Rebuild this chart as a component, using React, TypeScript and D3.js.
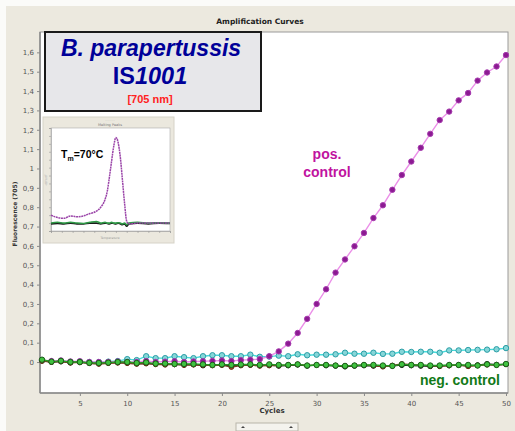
import React, { useRef, useEffect } from "react";
import * as d3 from "d3";

// main amplification data (cycles 1..50)
const cycles = [1, 2, 3, 4, 5, 6, 7, 8, 9, 10, 11, 12, 13, 14, 15, 16, 17, 18, 19, 20, 21, 22, 23, 24, 25,
  26, 27, 28, 29, 30, 31, 32, 33, 34, 35, 36, 37, 38, 39, 40, 41, 42, 43, 44, 45, 46, 47, 48, 49, 50];

const posControl = [0.01, 0.005, 0.008, 0.003, 0.004, 0.0, 0.0, 0.0, 0.003, 0.0, 0.0, 0.005, 0.0, 0.002, 0.004,
  0.0, 0.003, 0.004, 0.006, 0.008, 0.005, 0.01, 0.012, 0.015, 0.03, 0.055, 0.095, 0.15, 0.223, 0.3,
  0.376, 0.462, 0.53, 0.598, 0.667, 0.744, 0.81, 0.89, 0.966, 1.036, 1.107, 1.179, 1.25, 1.294, 1.352,
  1.39, 1.454, 1.496, 1.527, 1.586];

const cyanSample = [0.008, 0.002, 0.004, 0.0, 0.002, 0.0, 0.0, 0.002, 0.005, 0.015, 0.01, 0.03, 0.02, 0.02, 0.03,
  0.025, 0.02, 0.03, 0.035, 0.035, 0.03, 0.03, 0.038, 0.027, 0.028, 0.033, 0.03, 0.04, 0.035, 0.038,
  0.038, 0.04, 0.048, 0.043, 0.043, 0.048, 0.042, 0.043, 0.053, 0.052, 0.053, 0.053, 0.048, 0.06, 0.06,
  0.062, 0.063, 0.064, 0.066, 0.072];

const blackSample = [0.008, 0.0, 0.004, -0.003, 0.0, -0.006, -0.008, -0.004, -0.002, -0.004, -0.008, -0.006, -0.01, -0.012, -0.012,
  -0.014, -0.012, -0.018, -0.016, -0.014, -0.02, -0.016, -0.014, -0.018, -0.016, -0.02, -0.018, -0.014, -0.02, -0.016,
  -0.018, -0.02, -0.024, -0.02, -0.018, -0.02, -0.022, -0.02, -0.016, -0.018, -0.02, -0.022, -0.02, -0.018, -0.016,
  -0.02, -0.016, -0.01, -0.014, -0.012];

const brownSample = [0.005, 0.0, 0.002, -0.004, -0.002, -0.006, -0.01, -0.006, -0.004, -0.006, -0.01, -0.008, -0.012, -0.014, -0.012,
  -0.016, -0.014, -0.016, -0.018, -0.016, -0.026, -0.018, -0.016, -0.02, -0.018, -0.018, -0.016, -0.012, -0.018, -0.016,
  -0.016, -0.018, -0.02, -0.018, -0.016, -0.018, -0.024, -0.018, -0.01, -0.014, -0.016, -0.02, -0.022, -0.018, -0.016,
  -0.022, -0.018, -0.014, -0.016, -0.012];

const greenSample = [0.012, 0.002, 0.006, 0.0, 0.0, -0.004, -0.005, -0.003, 0.0, 0.0, -0.005, -0.002, -0.008, -0.008, -0.01,
  -0.01, -0.01, -0.012, -0.015, -0.012, -0.015, -0.013, -0.012, -0.015, -0.012, -0.015, -0.015, -0.012, -0.018, -0.015,
  -0.015, -0.018, -0.02, -0.018, -0.015, -0.015, -0.018, -0.02, -0.012, -0.015, -0.015, -0.018, -0.018, -0.015, -0.015,
  -0.015, -0.018, -0.012, -0.015, -0.01];

const xTicks = [5, 10, 15, 20, 25, 30, 35, 40, 45, 50];
const yTicks = [0, 0.1, 0.2, 0.3, 0.4, 0.5, 0.6, 0.7, 0.8, 0.9, 1, 1.1, 1.2, 1.3, 1.4, 1.5, 1.6];

// inset melting peaks
const meltTemps = [40, 43, 46, 49, 52, 55, 58, 61, 63, 65, 66, 67, 68, 69, 70, 71, 72, 73, 74, 75, 76, 80, 85, 90, 95];
const meltPos = [0.1, 0.07, 0.06, 0.09, 0.08, 0.09, 0.12, 0.15, 0.2, 0.3, 0.4, 0.58, 0.78, 0.97, 1.08, 1.02, 0.84, 0.55,
  0.25, 0.02, -0.01, 0.0, 0.0, 0.0, 0.0];
const meltGreen = [0.0, 0.01, 0.0, 0.01, 0.0, -0.005, 0.01, 0.02, 0.0, 0.01, 0.0, 0.0, 0.01, 0.0, 0.0, 0.005, 0.0, -0.01,
  0.0, -0.02, 0.0, 0.01, 0.0, 0.005, 0.0];
const meltBlack = [-0.01, -0.005, -0.01, 0.0, -0.01, -0.01, 0.0, 0.0, -0.01, 0.0, -0.005, -0.01, 0.0, -0.005, -0.01, 0.0,
  -0.01, -0.02, -0.01, -0.04, -0.01, 0.0, -0.01, 0.0, -0.005];

const series = [
  { name: "cyan", values: cyanSample, line: "#45dcdc", fill: "#86d6d8", stroke: "#2a9ea6", r: 2.7 },
  { name: "pos", values: posControl, line: "#eb8fe8", fill: "#8c1a92", stroke: "#a53aad", r: 2.7 },
  { name: "black", values: blackSample, line: "#111", fill: "#1b1b1b", stroke: "#000", r: 2.4 },
  { name: "brown", values: brownSample, line: "#7a3a20", fill: "#9a4a2a", stroke: "#6a2a10", r: 2.4 },
  { name: "green", values: greenSample, line: "#22a022", fill: "#3fc23f", stroke: "#1c5e1c", r: 2.7 },
];

const App = () => {
  const svgRef = useRef<SVGSVGElement>(null);

  useEffect(() => {
    const width = 515, height = 431;
    const svg = d3.select(svgRef.current)
      .attr("width", width)
      .attr("height", height);
    svg.selectAll("*").remove();

    svg.append("rect").attr("width", width).attr("height", height).attr("fill", "#fbfbf9");
    svg.append("rect").attr("x", 6).attr("y", 6).attr("width", 509).attr("height", 425).attr("fill", "#ece9df");

    const plot = { left: 40, right: 508, top: 32, bottom: 393 };
    svg.append("rect")
      .attr("x", plot.left).attr("y", plot.top)
      .attr("width", plot.right - plot.left).attr("height", plot.bottom - plot.top)
      .attr("fill", "#fff").attr("stroke", "#9a9a9a").attr("stroke-width", 1);

    const x = d3.scaleLinear().domain([1, 50]).range([42, 506]);
    const y = d3.scaleLinear().domain([-0.16, 1.7]).range([plot.bottom, plot.top + 1]);
    const fmt = (d: number) => (d === 0 ? "0" : d3.format(".1f")(d).replace(".", ",").replace(",0", ""));

    // title
    svg.append("text").attr("x", 260).attr("y", 24).attr("text-anchor", "middle")
      .style("font-family", "DejaVu Sans").style("font-size", "7.5px").style("font-weight", "bold")
      .attr("fill", "#222").text("Amplification Curves");

    // axes
    const xAxis = svg.append("g").attr("transform", `translate(0,${plot.bottom})`)
      .call(d3.axisBottom(x).tickValues(xTicks).tickSize(3).tickFormat(d3.format("d")));
    const yAxis = svg.append("g").attr("transform", `translate(${plot.left},0)`)
      .call(d3.axisLeft(y).tickValues(yTicks).tickSize(3).tickFormat(fmt as any));
    [xAxis, yAxis].forEach(a => {
      a.select(".domain").attr("stroke", "#8a8a8a").attr("stroke-width", 1.5);
      a.selectAll(".tick line").attr("stroke", "#8a8a8a");
      a.selectAll("text").style("font-family", "DejaVu Sans").style("font-size", "7px").attr("fill", "#555");
    });
    xAxis.select(".domain").attr("d", `M${plot.left},0H${plot.right}`);
    yAxis.select(".domain").attr("d", `M0,${plot.top}V${plot.bottom}`);
    xAxis.selectAll("text").attr("dy", "1em");

    svg.append("text").attr("x", 272).attr("y", 413).attr("text-anchor", "middle")
      .style("font-family", "DejaVu Sans").style("font-size", "7px").style("font-weight", "bold")
      .attr("fill", "#333").text("Cycles");
    svg.append("text").attr("transform", "translate(17,214) rotate(-90)").attr("text-anchor", "middle")
      .style("font-family", "DejaVu Sans").style("font-size", "6px").style("font-weight", "bold")
      .attr("fill", "#333").text("Fluorescence (705)");

    // scrollbar stub
    svg.append("rect").attr("x", 236).attr("y", 423).attr("width", 62).attr("height", 8)
      .attr("fill", "#f4f3ee").attr("stroke", "#b8b5aa");
    svg.append("path").attr("d", "M241,428 l2,-2 l2,2 Z M289,428 l2,-2 l2,2 Z").attr("fill", "#444");

    // series
    const line = d3.line<number>().x((_, i) => x(cycles[i])).y(d => y(d));
    series.forEach(s => {
      const g = svg.append("g");
      g.append("path").datum(s.values).attr("d", line).attr("fill", "none")
        .attr("stroke", s.line).attr("stroke-width", 1.4);
      g.selectAll("circle").data(s.values).enter().append("circle")
        .attr("cx", (_, i) => x(cycles[i])).attr("cy", d => y(d)).attr("r", s.r)
        .attr("fill", s.fill).attr("stroke", s.stroke).attr("stroke-width", 1);
    });

    // header box (drawn before its text)
    svg.append("rect").attr("x", 45).attr("y", 32).attr("width", 216).attr("height", 79)
      .attr("fill", "#e7e7ea").attr("stroke", "#1a1a1a").attr("stroke-width", 2);

    // annotations
    const ann = svg.append("g").style("font-family", "Liberation Sans, Arial").style("font-weight", "bold");
    ann.append("text").attr("x", 327).attr("y", 159).attr("text-anchor", "middle")
      .attr("fill", "#c0139f").style("font-size", "14px").text("pos.");
    ann.append("text").attr("x", 327).attr("y", 177).attr("text-anchor", "middle")
      .attr("fill", "#c0139f").style("font-size", "14px").text("control");
    ann.append("text").attr("x", 500).attr("y", 385).attr("text-anchor", "end")
      .attr("fill", "#137a18").style("font-size", "14px").text("neg. control");

    ann.append("text").attr("x", 151).attr("y", 56).attr("text-anchor", "middle")
      .attr("fill", "#000099").style("font-size", "23px").style("font-style", "italic").text("B. parapertussis");
    const is = ann.append("text").attr("x", 150).attr("y", 84).attr("text-anchor", "middle")
      .attr("fill", "#000099").style("font-size", "23.5px");
    is.append("tspan").text("IS");
    is.append("tspan").style("font-style", "italic").text("1001");
    ann.append("text").attr("x", 150).attr("y", 103).attr("text-anchor", "middle")
      .attr("fill", "#ff2222").style("font-size", "11px").text("[705 nm]");

    // inset melting peaks
    const inset = svg.append("g");
    inset.append("rect").attr("x", 43).attr("y", 117).attr("width", 131).attr("height", 126)
      .attr("fill", "#ebe8de").attr("stroke", "#d6d3c8");
    const ib = { left: 51, right: 170, top: 128, bottom: 231 };
    inset.append("rect").attr("x", ib.left).attr("y", ib.top)
      .attr("width", ib.right - ib.left).attr("height", ib.bottom - ib.top)
      .attr("fill", "#fff").attr("stroke", "#aaa").attr("stroke-width", 0.6);
    inset.append("text").attr("x", 110).attr("y", 126).attr("text-anchor", "middle")
      .style("font-family", "DejaVu Sans").style("font-size", "3.5px").attr("fill", "#777").text("Melting Peaks");
    inset.append("text").attr("x", 110).attr("y", 120.5).attr("text-anchor", "middle")
      .style("font-family", "DejaVu Sans").style("font-size", "3px").attr("fill", "#aaa").text("- - - - -");
    const ix = d3.scaleLinear().domain([40, 95]).range([ib.left, ib.right]);
    const iy = d3.scaleLinear().domain([-0.1, 1.2]).range([ib.bottom, ib.top]);
    const ixA = inset.append("g").attr("transform", `translate(0,${ib.bottom})`)
      .call(d3.axisBottom(ix).ticks(12).tickSize(2).tickFormat(() => ""));
    const iyA = inset.append("g").attr("transform", `translate(${ib.left},0)`)
      .call(d3.axisLeft(iy).ticks(12).tickSize(2).tickFormat(() => ""));
    [ixA, iyA].forEach(a => {
      a.select(".domain").attr("stroke", "#999").attr("stroke-width", 0.6);
      a.selectAll(".tick line").attr("stroke", "#999").attr("stroke-width", 0.6);
    });
    inset.append("text").attr("x", 110).attr("y", 239).attr("text-anchor", "middle")
      .style("font-family", "DejaVu Sans").style("font-size", "3px").attr("fill", "#999").text("Temperature");
    inset.append("text").attr("transform", "translate(47,180) rotate(-90)").attr("text-anchor", "middle")
      .style("font-family", "DejaVu Sans").style("font-size", "3px").attr("fill", "#aaa").text("-d(F)/dT");

    const mline = d3.line<number>().x((_, i) => ix(meltTemps[i])).y(d => iy(d)).curve(d3.curveMonotoneX);
    inset.append("path").datum(meltBlack).attr("d", mline).attr("fill", "none")
      .attr("stroke", "#1a1a1a").attr("stroke-width", 1.6);
    inset.append("path").datum(meltGreen).attr("d", mline).attr("fill", "none")
      .attr("stroke", "#2e9a46").attr("stroke-width", 1.6);
    inset.append("path").datum(meltPos).attr("d", mline).attr("fill", "none")
      .attr("stroke", "#9a44a8").attr("stroke-width", 1.5).attr("stroke-dasharray", "2,0.6");

    const tm = inset.append("text").attr("x", 61).attr("y", 158)
      .style("font-family", "Liberation Sans, Arial").style("font-weight", "bold").style("font-size", "10.5px")
      .attr("fill", "#000");
    tm.append("tspan").text("T");
    tm.append("tspan").attr("dy", 3).style("font-size", "7px").text("m");
    tm.append("tspan").attr("dy", -3).text("=70°C");
  }, []);

  return (
    <div style={{ position: "absolute", left: 0, top: 0 }}>
      <svg ref={svgRef}></svg>
    </div>
  );
};

export default App;
